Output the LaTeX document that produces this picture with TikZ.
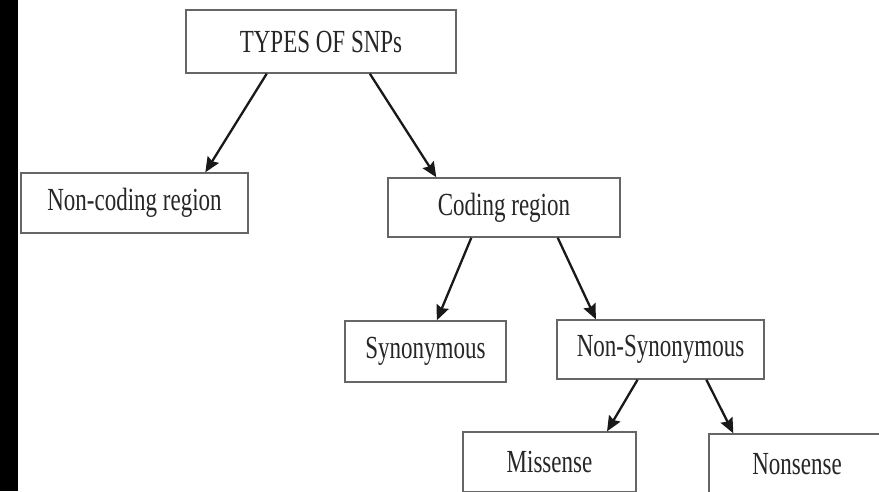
\documentclass[tikz,border=0pt]{standalone}
\usepackage{fontspec}
\setmainfont{Liberation Serif}
\usetikzlibrary{calc,arrows.meta}
\tikzset{
  box/.style={draw=black!60, line width=1.4pt, fill=white, inner sep=0pt, anchor=center,
    font=\fontsize{23pt}{23pt}\selectfont, text=black!85},
  link/.style={draw=black!90, line width=2.3pt, -{Stealth[length=15pt,width=13pt,inset=2pt]}}
}
\newcommand{\tallt}[1]{\scalebox{1}[1.4]{#1}}
\begin{document}
\begin{tikzpicture}[x=1pt,y=-1pt]
\useasboundingbox (0,0) rectangle (879,491);
\clip (0,0) rectangle (879,491);
\fill[white] (0,0) rectangle (879,491);
\fill[black] (0,0) rectangle (18,491);
\node[box, minimum width=270pt, minimum height=63pt] (top) at (321,41.5) {\tallt{TYPES OF SNPs}};
\node[box, minimum width=227pt, minimum height=60pt] (nonc) at (134.5,203) {\tallt{Non-coding region}};
\node[box, minimum width=232pt, minimum height=59pt] (cod) at (504,207.5) {\tallt{Coding region}};
\node[box, minimum width=161pt, minimum height=61pt] (syn) at (425.5,351.5) {\tallt{Synonymous}};
\node[box, minimum width=207pt, minimum height=59pt] (nsyn) at (660.5,349.5) {\tallt{Non-Synonymous}};
\node[box, minimum width=173pt, minimum height=60pt] (mis) at (549.5,462) {\tallt{Missense}};
\node[box, minimum width=191pt, minimum height=60pt] (non) at (804.5,464) {\hspace*{-15pt}\tallt{Nonsense}};
\draw[link] ($(top.south west)!0.30!(top.south east)$) -- ($(nonc.north west)!0.81!(nonc.north east)$);
\draw[link] ($(top.south west)!0.68!(top.south east)$) -- ($(cod.north west)!0.21!(cod.north east)$);
\draw[link] ($(cod.south west)!0.36!(cod.south east)$) -- ($(syn.north west)!0.57!(syn.north east)$);
\draw[link] ($(cod.south west)!0.73!(cod.south east)$) -- ($(nsyn.north west)!0.19!(nsyn.north east)$);
\draw[link] ($(nsyn.south west)!0.39!(nsyn.south east)$) -- ($(mis.north west)!0.83!(mis.north east)$);
\draw[link] ($(nsyn.south west)!0.72!(nsyn.south east)$) -- ($(non.north west)!0.13!(non.north east)$);
\end{tikzpicture}
\end{document}
